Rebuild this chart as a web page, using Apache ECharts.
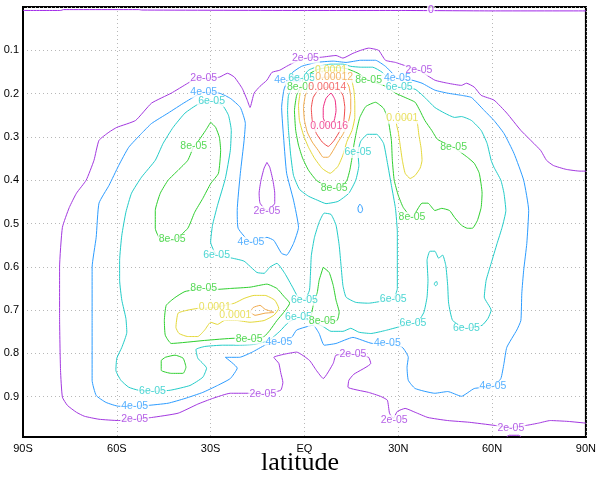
<!DOCTYPE html>
<html>
<head>
<meta charset="utf-8">
<script src="https://cdn.jsdelivr.net/npm/echarts@6/dist/echarts.min.js"></script>
<style>
  html, body { margin: 0; padding: 0; background: #fff; }
  #chart { width: 599px; height: 478px; }
</style>
</head>
<body>
<div id="chart"></div>
<script>
// Axis ticks: latitude (degrees) and sigma level
const latTicks = [-90, -60, -30, 0, 30, 60, 90];
const latTickLabels = ['90S', '60S', '30S', 'EQ', '30N', '60N', '90N'];
const sigmaTicks = [0.1, 0.2, 0.3, 0.4, 0.5, 0.6, 0.7, 0.8, 0.9];
const sigmaTickLabels = ['0.1', '0.2', '0.3', '0.4', '0.5', '0.6', '0.7', '0.8', '0.9'];

// Contour levels and their printed labels
const levels = [0, 2e-5, 4e-5, 6e-5, 8e-5, 1e-4, 1.2e-4, 1.4e-4, 1.6e-4];
const levelText = ['0', '2e-05', '4e-05', '6e-05', '8e-05', '0.0001', '0.00012', '0.00014', '0.00016'];

// Contour polylines, [latitude, sigma]
const c0_top = [[-90,0.008],[-78,0.008],[-77,0.006],[-53,0.006],[-52,0.007],[0,0.008],[30,0.008],[60,0.009],[90,0.009]];

const c2_outer = [[90,0.961],[84.3,0.957],[78.6,0.955],[74.8,0.961],[71.1,0.966],[66,0.971],[60.6,0.966],[52.7,0.959],[45.8,0.955],[39.5,0.948],[35.4,0.936],[32.2,0.927],[29.7,0.934],[28.4,0.950],[27.2,0.938],[26.5,0.908],[24.3,0.899],[20.5,0.890],[13.9,0.878],[14.2,0.862],[15.8,0.848],[21.2,0.823],[20.5,0.809],[15.5,0.802],[10.1,0.804],[9.2,0.823],[6.0,0.858],[3.8,0.839],[1.6,0.816],[-2.5,0.797],[-6.6,0.802],[-9.8,0.809],[-8.2,0.823],[-7.6,0.844],[-6.9,0.867],[-7.6,0.885],[-13.3,0.894],[-18.3,0.892],[-23.7,0.892],[-29.4,0.904],[-34.1,0.917],[-40.4,0.938],[-48.9,0.948],[-54.3,0.952],[-59.4,0.955],[-65.7,0.952],[-70.4,0.945],[-72.9,0.936],[-75.8,0.920],[-77.4,0.901],[-78,0.839],[-78.3,0.717],[-78.3,0.601],[-77.4,0.509],[-75.2,0.463],[-72.9,0.430],[-69.8,0.400],[-67.3,0.354],[-65.7,0.308],[-62.5,0.289],[-60,0.278],[-54,0.262],[-48.9,0.222],[-42.6,0.199],[-37.3,0.176],[-35.1,0.167],[-31.9,0.165],[-27.2,0.162],[-24.6,0.153],[-22.4,0.162],[-19.9,0.188],[-18.3,0.215],[-17.4,0.232],[-16.1,0.199],[-14.2,0.183],[-12,0.169],[-10.4,0.151],[-7.9,0.146],[-5.7,0.137],[-2.5,0.125],[0.3,0.118],[5.4,0.116],[10.1,0.112],[12.3,0.118],[15.5,0.107],[18,0.100],[20.5,0.095],[23.7,0.100],[25.9,0.123],[29.1,0.128],[32.8,0.137],[36.6,0.146],[41.7,0.169],[45.8,0.176],[50.2,0.181],[51.8,0.176],[54.3,0.185],[56.5,0.204],[60.6,0.215],[64.7,0.245],[69.2,0.285],[75.5,0.331],[77.4,0.354],[79.6,0.366],[83.7,0.375],[88.1,0.379],[90,0.379]];
const c2_island = [[-12,0.359],[-12.9,0.372],[-13.9,0.400],[-14.5,0.430],[-14.2,0.453],[-12,0.470],[-9.5,0.453],[-9.5,0.430],[-10.1,0.400],[-11.1,0.370],[-12,0.359]];
const c2_floor = [[64.7,0.992],[65.5,0.989],[68.5,0.989],[69.2,0.992]];

const c4_main = [[-49.9,0.920],[-54.3,0.922],[-59.4,0.922],[-63.5,0.913],[-66.6,0.897],[-67.9,0.862],[-67.9,0.724],[-67.9,0.601],[-66.6,0.532],[-65.7,0.453],[-62.5,0.412],[-59.4,0.366],[-56.2,0.324],[-52.1,0.292],[-48.9,0.269],[-43.6,0.245],[-38.2,0.220],[-32.2,0.197],[-27.2,0.199],[-23.7,0.211],[-20.5,0.232],[-18.9,0.269],[-19.3,0.308],[-20.5,0.384],[-21.5,0.470],[-21.2,0.511],[-17.1,0.543],[-12,0.532],[-9.8,0.539],[-7.3,0.569],[-5.7,0.573],[-3.5,0.546],[-1.9,0.509],[-3.5,0.446],[-5.7,0.384],[-6.6,0.308],[-7.3,0.232],[-6.6,0.192],[-5.4,0.169],[-3.8,0.151],[-0.9,0.137],[3.8,0.128],[9.2,0.125],[13.3,0.128],[18,0.123],[22.7,0.123],[25.9,0.137],[28.1,0.153],[29.7,0.165],[34.4,0.169],[37.6,0.176],[41.7,0.192],[45.8,0.199],[50.2,0.204],[53.4,0.209],[57.5,0.239],[60.6,0.262],[63.8,0.292],[67,0.338],[70.1,0.400],[71.7,0.470],[71.1,0.546],[70.1,0.608],[69.5,0.661],[69.2,0.724],[67.9,0.746],[64.7,0.786],[63.8,0.823],[62.8,0.858],[60.3,0.876],[54.3,0.881],[50.2,0.899],[45.8,0.888],[41.7,0.892],[35.4,0.881],[33.2,0.862],[32.8,0.832],[33.2,0.809],[31.3,0.786],[26.5,0.777],[21.8,0.777],[15.5,0.763],[10.1,0.777],[6.3,0.781],[4.7,0.754],[2.8,0.735],[-2.5,0.746],[-4.1,0.763],[-8.2,0.774],[-12.6,0.781],[-16.7,0.797],[-20.8,0.809],[-25.3,0.809],[-21.5,0.834],[-23.7,0.858],[-27.8,0.874],[-32.5,0.890],[-38.2,0.904],[-43.6,0.915],[-49.9,0.920]];
const c4_drop = [[17.7,0.455],[18.3,0.460],[18.6,0.468],[18.1,0.475],[17.3,0.473],[17.1,0.464],[17.7,0.455]];

const c6_main = [[-48.6,0.888],[-53.1,0.885],[-56.2,0.878],[-58.7,0.862],[-60.3,0.839],[-60,0.811],[-58.4,0.786],[-56.8,0.751],[-57.1,0.719],[-58.4,0.677],[-59.1,0.631],[-59.1,0.585],[-58.4,0.527],[-57.1,0.474],[-55.3,0.430],[-52.1,0.393],[-47.7,0.354],[-45.2,0.315],[-42,0.278],[-38.2,0.245],[-34.1,0.225],[-29.7,0.218],[-26.2,0.227],[-24.3,0.250],[-23.4,0.285],[-23.7,0.331],[-25.3,0.396],[-27.8,0.458],[-29.4,0.504],[-30,0.543],[-28.1,0.573],[-23.1,0.580],[-19.3,0.587],[-15.2,0.613],[-12.9,0.615],[-11.1,0.601],[-8.8,0.592],[-6.3,0.615],[-3.8,0.647],[-2.2,0.668],[0,0.677],[1.6,0.654],[1.9,0.620],[2.2,0.574],[3.2,0.532],[4.7,0.497],[6.3,0.476],[8.5,0.479],[10.1,0.504],[11.1,0.550],[11.7,0.597],[12.3,0.643],[13.3,0.670],[16.4,0.682],[20.5,0.684],[24.3,0.680],[28.4,0.675],[29.7,0.650],[29.7,0.585],[29.7,0.520],[29.1,0.465],[27.8,0.412],[26.5,0.359],[25.3,0.315],[23.1,0.294],[20.2,0.294],[18,0.310],[17.1,0.336],[17.4,0.366],[16.4,0.400],[14.2,0.430],[10.7,0.449],[6.9,0.454],[4.1,0.446],[1.3,0.437],[-1.6,0.421],[-3.5,0.389],[-4.4,0.342],[-5.1,0.285],[-5.4,0.239],[-5.1,0.204],[-3.5,0.181],[-0.9,0.165],[1.3,0.146],[4.4,0.137],[8.5,0.132],[12.3,0.132],[14.8,0.137],[18,0.139],[21.8,0.139],[24.9,0.151],[27.8,0.172],[30.3,0.185],[35.4,0.190],[38.5,0.209],[41.7,0.232],[44.8,0.245],[48,0.255],[50.2,0.253],[53.4,0.262],[56.5,0.285],[58.4,0.315],[59.7,0.354],[60.6,0.370],[62.8,0.400],[63.8,0.430],[64.4,0.470],[63.2,0.509],[61.6,0.546],[59.7,0.592],[58.1,0.631],[57.5,0.670],[59.7,0.700],[58.7,0.719],[56.8,0.735],[51.8,0.742],[47.4,0.724],[46.1,0.684],[45.8,0.643],[45.2,0.597],[44.2,0.573],[42.9,0.580],[41.7,0.564],[40.1,0.564],[39.2,0.585],[39.5,0.631],[39.2,0.670],[38.2,0.705],[36.6,0.724],[34.7,0.731],[30.6,0.738],[25.9,0.747],[21.2,0.754],[17.4,0.751],[14.8,0.742],[12.3,0.749],[8.5,0.749],[6,0.738],[2.2,0.726],[-1.9,0.717],[-5.1,0.728],[-7.9,0.749],[-11.4,0.770],[-15.8,0.779],[-20.8,0.781],[-26.2,0.781],[-31.9,0.784],[-34.7,0.791],[-34.1,0.811],[-31.3,0.834],[-32.5,0.855],[-36.6,0.874],[-42.9,0.885],[-48.6,0.888]];
const c6_dot = [[41.7,0.636],[42.3,0.634],[42.5,0.640],[42,0.644],[41.5,0.640],[41.7,0.636]];

const c8_main = [[-1.3,0.186],[-2.5,0.204],[-3.2,0.239],[-2.8,0.285],[-1.9,0.319],[-0.6,0.349],[1.3,0.377],[3.8,0.400],[6.9,0.414],[9.5,0.419],[12,0.414],[13.6,0.400],[14.5,0.377],[15.2,0.349],[15.8,0.319],[16.7,0.285],[17.7,0.255],[19.6,0.230],[22.7,0.220],[25.3,0.234],[26.8,0.262],[27.8,0.308],[28.1,0.354],[28.7,0.400],[30,0.435],[31.6,0.463],[34.4,0.486],[37.6,0.453],[39.5,0.453],[41.7,0.470],[43.9,0.465],[46.4,0.470],[48,0.486],[50.2,0.504],[52.1,0.511],[53.7,0.511],[55.3,0.493],[56.5,0.463],[56.8,0.430],[55.9,0.384],[54.3,0.361],[52.1,0.347],[47.7,0.324],[42.6,0.306],[40.7,0.285],[38.5,0.262],[36.9,0.239],[35.4,0.220],[32.2,0.209],[29.1,0.199],[25.9,0.183],[20.5,0.169],[17.1,0.153],[13.3,0.142],[8.5,0.139],[4.4,0.144],[1.3,0.155],[-0.6,0.169],[-1.3,0.186]];
const c8_upperWest = [[-30,0.266],[-31.6,0.285],[-33.8,0.308],[-35.4,0.322],[-37.3,0.354],[-40.4,0.377],[-43.6,0.400],[-46.1,0.430],[-47.7,0.470],[-47.7,0.511],[-45.8,0.539],[-42,0.539],[-37.3,0.511],[-35.1,0.474],[-32.5,0.442],[-30,0.408],[-27.5,0.384],[-26.8,0.331],[-27.2,0.301],[-28.4,0.278],[-30,0.266]];
const c8_lowerWest = [[-32.2,0.650],[-27.8,0.652],[-23.7,0.650],[-17.4,0.647],[-12,0.640],[-8.8,0.650],[-6.6,0.668],[-4.7,0.684],[-6.6,0.705],[-8.8,0.724],[-11.1,0.747],[-12.9,0.761],[-17.7,0.767],[-22.4,0.765],[-31.9,0.770],[-42.6,0.777],[-44.5,0.758],[-44.8,0.724],[-44.2,0.689],[-41.4,0.671],[-38.2,0.657],[-32.2,0.650]];
const c8_tongue = [[6,0.601],[7.9,0.613],[9.2,0.643],[10.1,0.677],[11.1,0.705],[10.4,0.724],[5.7,0.726],[2.2,0.714],[2.8,0.689],[4.1,0.659],[4.7,0.631],[6,0.601]];
const c8_southWest = [[-45.8,0.816],[-44.5,0.809],[-41.4,0.804],[-38.8,0.811],[-37.9,0.832],[-38.8,0.846],[-42.6,0.846],[-45.8,0.839],[-45.8,0.816]];

const c10_jet = [[8.5,0.146],[12.3,0.148],[14.8,0.162],[15.8,0.192],[16.1,0.222],[16.1,0.255],[15.2,0.285],[13.6,0.310],[12.3,0.342],[10.7,0.368],[8.2,0.384],[5.7,0.373],[3.2,0.349],[1.3,0.324],[-0.3,0.296],[-1.6,0.262],[-1.9,0.227],[-1.3,0.197],[0.3,0.172],[2.8,0.155],[5.7,0.148],[8.5,0.146]];
const c10_east = [[31.3,0.257],[34.1,0.257],[36,0.266],[36.6,0.296],[37.3,0.326],[37.6,0.354],[37,0.372],[35.4,0.389],[33.8,0.396],[32.2,0.384],[31.3,0.354],[30.6,0.319],[30,0.289],[29.4,0.269],[31.3,0.257]];
const c10_west = [[-28.7,0.694],[-34.1,0.696],[-37.3,0.700],[-40.4,0.707],[-41.1,0.740],[-40.1,0.754],[-37.3,0.761],[-34.1,0.761],[-31.9,0.746],[-30,0.728],[-27.8,0.733],[-25.6,0.724],[-21.5,0.724],[-17.4,0.728],[-12.9,0.724],[-9.8,0.712],[-8.2,0.696],[-9.5,0.677],[-12.6,0.666],[-16.1,0.666],[-19.3,0.673],[-22.4,0.684],[-28.7,0.694]];

const c12_jet = [[9.5,0.162],[12.6,0.165],[14.2,0.183],[14.8,0.209],[14.8,0.239],[13.9,0.269],[12.3,0.294],[10.7,0.312],[9.2,0.331],[7.6,0.347],[6,0.347],[4.4,0.331],[2.5,0.312],[0.9,0.289],[0,0.262],[-0.3,0.232],[0.3,0.204],[1.6,0.183],[3.8,0.169],[6.3,0.162],[9.5,0.162]];
const c12_west = [[-17.4,0.705],[-16.4,0.694],[-14.2,0.689],[-12.6,0.698],[-9.8,0.705],[-12.6,0.707],[-15.8,0.712],[-17.4,0.705]];

const c14_jet = [[7.3,0.185],[10.7,0.188],[12.3,0.204],[12.9,0.232],[12.6,0.262],[11.4,0.285],[9.5,0.308],[7.6,0.322],[5.7,0.312],[3.8,0.292],[2.5,0.262],[2.2,0.234],[2.8,0.209],[4.4,0.192],[7.3,0.185]];

const c16_jet = [[7.9,0.276],[9.5,0.262],[10.1,0.239],[9.8,0.215],[8.5,0.199],[6.9,0.211],[6,0.234],[6,0.255],[6.9,0.271],[7.9,0.276]];

// Which level each polyline belongs to (index into levels)
const contours = [
  [0, c0_top],
  [1, c2_outer], [1, c2_island], [1, c2_floor],
  [2, c4_main], [2, c4_drop],
  [3, c6_main], [3, c6_dot],
  [4, c8_main], [4, c8_upperWest], [4, c8_lowerWest], [4, c8_tongue], [4, c8_southWest],
  [5, c10_jet], [5, c10_east], [5, c10_west],
  [6, c12_jet], [6, c12_west],
  [7, c14_jet],
  [8, c16_jet]
];

// In-line contour labels: [latitude, sigma, level index]
const contourLabels = [
  [40.4,0.008,0],
  [66,0.973,1],[28.7,0.955,1],[15.5,0.802,1],[-13.3,0.894,1],[-54.3,0.952,1],[-32.2,0.165,1],[0.3,0.118,1],[36.6,0.146,1],[-12,0.472,1],
  [-54.3,0.922,2],[-32.2,0.197,2],[-17.1,0.543,2],[-5.4,0.169,2],[29.7,0.165,2],[60.3,0.876,2],[26.5,0.777,2],[-8.2,0.774,2],
  [-48.6,0.888,3],[-29.7,0.218,3],[-28.1,0.573,3],[0,0.677,3],[28.4,0.675,3],[17.1,0.336,3],[-0.9,0.165,3],[30.3,0.185,3],[51.8,0.742,3],[34.7,0.731,3],[-1.9,0.717,3],
  [-1.3,0.186,4],[9.5,0.419,4],[34.4,0.486,4],[47.7,0.324,4],[20.5,0.169,4],[-35.4,0.322,4],[-42.3,0.536,4],[-32.2,0.650,4],[-17.7,0.767,4],[5.7,0.726,4],
  [8.5,0.146,5],[31.3,0.257,5],[-28.7,0.694,5],[-22.1,0.712,5],
  [9.5,0.162,6],
  [7.3,0.185,7],
  [7.9,0.276,8]
];

// Rainbow line colours, one per level
const levelColors = ['#a028e8', '#a338e0', '#2c9cff', '#22ccc8', '#2ecf2e', '#e4d838', '#f0a848', '#f04a4a', '#ee2a82'];

const series = [];
contours.forEach(([lvl, pts]) => {
  series.push({
    type: 'line',
    data: pts,
    showSymbol: false,
    symbol: 'none',
    smooth: 0.15,
    silent: true,
    z: 2,
    lineStyle: { color: levelColors[lvl], width: 1 }
  });
});

levelText.forEach((txt, lvl) => {
  const pts = contourLabels.filter(l => l[2] === lvl).map(l => [l[0], l[1]]);
  if (!pts.length) return;
  series.push({
    type: 'scatter',
    data: pts,
    symbolSize: 1,
    silent: true,
    z: 10 + lvl,
    itemStyle: { color: 'rgba(0,0,0,0)' },
    label: {
      show: true,
      position: 'inside',
      formatter: txt,
      color: levelColors[lvl],
      fontSize: 10.5,
      fontFamily: '"Liberation Sans", Arial, sans-serif',
      backgroundColor: '#fff',
      padding: [0, 1],
      lineHeight: 11
    }
  });
});

const gridLine = { show: true, lineStyle: { color: '#b8b8b8', width: 1, type: [1, 3] } };

const chart = echarts.init(document.getElementById('chart'), null, { renderer: 'canvas' });
chart.setOption({
  animation: false,
  backgroundColor: '#fff',
  grid: { left: 23, right: 6, top: 7, bottom: 41, show: true, borderColor: '#000', borderWidth: 2, backgroundColor: 'transparent' },
  xAxis: {
    type: 'value', min: -90, max: 90, interval: 30,
    axisLine: { show: true, onZero: false, lineStyle: { color: '#000', width: 2 } },
    axisTick: { show: false },
    splitLine: gridLine,
    axisLabel: {
      color: '#000', fontSize: 11, margin: 6,
      fontFamily: '"Liberation Sans", Arial, sans-serif',
      formatter: v => { const i = latTicks.indexOf(Math.round(v)); return i >= 0 ? latTickLabels[i] : ''; }
    }
  },
  yAxis: {
    type: 'value', inverse: true, min: 0, max: 0.993, interval: 0.1,
    axisLine: { show: true, onZero: false, lineStyle: { color: '#000', width: 2 } },
    axisTick: { show: false },
    splitLine: gridLine,
    axisLabel: {
      color: '#000', fontSize: 11, margin: 4,
      fontFamily: '"Liberation Sans", Arial, sans-serif',
      formatter: v => {
        const i = sigmaTicks.findIndex(t => Math.abs(t - v) < 1e-6);
        return i >= 0 ? sigmaTickLabels[i] : '';
      }
    }
  },
  graphic: [{
    type: 'text',
    style: {
      text: 'latitude', x: 300, y: 463,
      textAlign: 'center', textVerticalAlign: 'middle',
      align: 'center', verticalAlign: 'middle',
      font: '26px "Liberation Serif", "Times New Roman", serif',
      fill: '#000'
    }
  }],
  series: series
});
</script>
</body>
</html>
